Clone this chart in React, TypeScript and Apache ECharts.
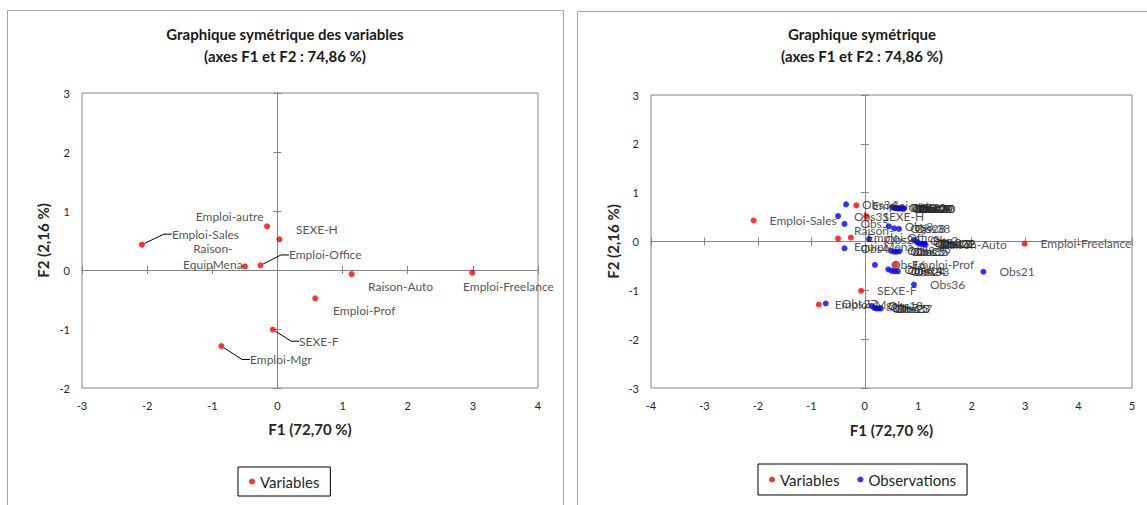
import React, { useEffect, useRef } from 'react';
import * as echarts from 'echarts';

// ---- Data ----
const VAR_NAMES = ['Emploi-Sales', 'Emploi-autre', 'SEXE-H', 'Raison-EquipMena', 'Emploi-Office', 'Raison-Auto', 'Emploi-Freelance', 'Emploi-Prof', 'SEXE-F', 'Emploi-Mgr'];
const VAR_F1 = [-2.08, -0.16, 0.03, -0.5, -0.26, 1.14, 2.99, 0.58, -0.07, -0.86];
const VAR_F2 = [0.43, 0.74, 0.52, 0.06, 0.08, -0.07, -0.045, -0.48, -1.01, -1.29];

const OBS_NAMES = Array.from({ length: 40 }, (_, i) => 'Obs' + (i + 1));
const OBS_F1 = [0.52, 0.92, 0.98, -0.38, -0.38, 0.44, 0.18, 0.45, 0.49, 0.56,
  0.59, 1.02, 0.13, 0.5, 0.22, 0.19, 1.06, 0.62, 0.65, 0.68,
  2.22, 1.1, 0.26, 0.56, 0.55, 0.08, -0.73, 0.55, 0.7, 0.72,
  -0.5, 1.12, 0.62, -0.35, 0.6, 0.92, 0.3, 0.64, 0.65, 0.73];
const OBS_F2 = [0.7, 0.03, -0.02, -0.14, 0.36, -0.57, -1.36, 0.31, -0.19, 0.69,
  0.68, -0.04, -1.32, -0.6, -1.37, -0.48, -0.05, 0.68, 0.68, 0.68,
  -0.62, -0.05, -1.37, -0.61, -0.21, 0.05, -1.27, 0.27, 0.68, 0.67,
  0.52, -0.05, -0.61, 0.76, -0.21, -0.88, -1.37, 0.26, -0.2, 0.68];

const LEFT_X = [-3, 4];
const LEFT_Y = [-2, 3];
const RIGHT_X = [-4, 5];
const RIGHT_Y = [-3, 3];

const TITLE_LEFT = 'Graphique symétrique des variables\n(axes F1 et F2 : 74,86 %)';
const TITLE_RIGHT = 'Graphique symétrique\n(axes F1 et F2 : 74,86 %)';
const X_NAME = 'F1 (72,70 %)';
const Y_NAME = 'F2 (2,16 %)';

// ---- Label placement (style) ----
const LEFT_LABELS: Record<string, { pos: string; dx: number; dy: number; line?: boolean }> = {
  'Emploi-Sales': { pos: 'right', dx: 22, dy: -10.5, line: true },
  'Emploi-autre': { pos: 'left', dx: 4.5, dy: -10 },
  'SEXE-H': { pos: 'right', dx: 8.6, dy: -10 },
  'Raison-EquipMena': { pos: 'inside', dx: -32, dy: -9.5 },
  'Emploi-Office': { pos: 'right', dx: 20.5, dy: -10.3, line: true },
  'Raison-Auto': { pos: 'right', dx: 8.3, dy: 12.3 },
  'Emploi-Freelance': { pos: 'right', dx: -17.2, dy: 13.7 },
  'Emploi-Prof': { pos: 'right', dx: 9.8, dy: 11.7 },
  'SEXE-F': { pos: 'right', dx: 18.2, dy: 11.6, line: true },
  'Emploi-Mgr': { pos: 'right', dx: 20.6, dy: 13.4, line: true },
};
const WRAPPED: Record<string, string> = { 'Raison-EquipMena': 'Raison-\nEquipMena' };

const FONT = 'Lato';
const AXIS_GRAY = '#868686';
const TEXT = '#262626';

function axesFor(gridIndex: number, base: number, xr: number[], yr: number[], yGap: number, xGap: number) {
  const lineStyle = { color: AXIS_GRAY, width: 1 };
  const common = { type: 'value', interval: 1, splitLine: { show: false }, gridIndex };
  const xAxes = [
    {
      ...common, min: xr[0], max: xr[1], position: 'bottom',
      axisLine: { show: false, onZero: false }, axisTick: { show: false },
      axisLabel: { show: true, fontSize: 11, color: TEXT, fontFamily: FONT, margin: 12 },
      name: X_NAME, nameLocation: 'middle', nameGap: xGap,
      nameTextStyle: { fontSize: 15, fontWeight: 'bold', color: TEXT, fontFamily: FONT },
    },
    {
      ...common, min: xr[0], max: xr[1],
      axisLine: { show: true, onZero: true, onZeroAxisIndex: base, lineStyle },
      axisTick: { show: true, inside: true, length: 4, lineStyle }, axisLabel: { show: false },
    },
    {
      ...common, min: xr[0], max: xr[1],
      axisLine: { show: false, onZero: true, onZeroAxisIndex: base, lineStyle },
      axisTick: { show: true, inside: false, length: 4, lineStyle }, axisLabel: { show: false },
    },
  ];
  const yAxes = [
    {
      ...common, min: yr[0], max: yr[1], position: 'left',
      axisLine: { show: false, onZero: false }, axisTick: { show: false },
      axisLabel: { show: true, fontSize: 11, color: TEXT, fontFamily: FONT, margin: 12 },
      name: Y_NAME, nameLocation: 'middle', nameGap: yGap,
      nameTextStyle: { fontSize: 15, fontWeight: 'bold', color: TEXT, fontFamily: FONT },
    },
    {
      ...common, min: yr[0], max: yr[1],
      axisLine: { show: true, onZero: true, onZeroAxisIndex: base, lineStyle },
      axisTick: { show: true, inside: true, length: 4, lineStyle }, axisLabel: { show: false },
    },
    {
      ...common, min: yr[0], max: yr[1],
      axisLine: { show: false, onZero: true, onZeroAxisIndex: base, lineStyle },
      axisTick: { show: true, inside: false, length: 4, lineStyle }, axisLabel: { show: false },
    },
  ];
  return { xAxes, yAxes };
}

const labelFormatter = (p: any) => WRAPPED[p.name] ?? p.name;

function buildOption() {
  const L = axesFor(0, 0, LEFT_X, LEFT_Y, 31.5, 33);
  const R = axesFor(1, 3, RIGHT_X, RIGHT_Y, 30.5, 34.5);

  const leftData = VAR_NAMES.map((n, i) => {
    const o = LEFT_LABELS[n];
    return {
      name: n,
      value: [VAR_F1[i], VAR_F2[i]],
      label: { position: o.pos },
      labelLine: { show: !!o.line },
    };
  });
  const rightVars = VAR_NAMES.map((n, i) => ({ name: n, value: [VAR_F1[i], VAR_F2[i]] }));
  const rightObs = OBS_NAMES.map((n, i) => ({ name: n, value: [OBS_F1[i], OBS_F2[i]] }));

  const labelBase = {
    show: true, fontSize: 12, color: TEXT, fontFamily: FONT, lineHeight: 16,
    formatter: labelFormatter,
  };

  const titleStyle = { fontSize: 15, fontWeight: 'bold', lineHeight: 22, color: '#1a1a1a', fontFamily: FONT };

  return {
    animation: false,
    backgroundColor: '#ffffff',
    textStyle: { fontFamily: FONT },
    title: [
      { text: TITLE_LEFT, left: 285, top: 23, textAlign: 'center', padding: 0, textStyle: titleStyle },
      { text: TITLE_RIGHT, left: 862, top: 23, textAlign: 'center', padding: 0, textStyle: titleStyle },
    ],
    legend: [
      {
        data: ['Variables'], left: 238, top: 467, padding: [7, 11], orient: 'horizontal',
        borderColor: '#000', borderWidth: 1, icon: 'circle', itemWidth: 6, itemHeight: 6,
        selectedMode: false, textStyle: { fontSize: 15, color: TEXT, fontFamily: FONT },
      },
      {
        data: ['Variables', 'Observations'], left: 758, top: 464, padding: [8, 11], itemGap: 18,
        orient: 'horizontal', borderColor: '#000', borderWidth: 1, icon: 'circle',
        itemWidth: 6, itemHeight: 6, selectedMode: false,
        textStyle: { fontSize: 15, color: TEXT, fontFamily: FONT },
      },
    ],
    grid: [
      { left: 82, top: 93, width: 456, height: 295, show: true, borderColor: AXIS_GRAY, borderWidth: 1, backgroundColor: 'transparent' },
      { left: 651, top: 95, width: 481, height: 293, show: true, borderColor: AXIS_GRAY, borderWidth: 1, backgroundColor: 'transparent' },
    ],
    xAxis: [...L.xAxes, ...R.xAxes],
    yAxis: [...L.yAxes, ...R.yAxes],
    graphic: [
      { type: 'rect', silent: true, z: -10, shape: { x: 7.5, y: 10.5, width: 556, height: 530 }, style: { fill: 'none', stroke: '#a6a6a6', lineWidth: 1 } },
      { type: 'rect', silent: true, z: -10, shape: { x: 577.5, y: 11.5, width: 600, height: 530 }, style: { fill: 'none', stroke: '#a6a6a6', lineWidth: 1 } },
    ],
    series: [
      {
        name: 'Variables', type: 'scatter', xAxisIndex: 0, yAxisIndex: 0,
        symbol: 'circle', symbolSize: 6, itemStyle: { color: '#ff0000' },
        label: { ...labelBase, distance: 5 },
        labelLine: { show: false, length2: 8, lineStyle: { color: '#000', width: 1 } },
        labelLayout: (p: any) => {
          const o = LEFT_LABELS[VAR_NAMES[p.dataIndex]];
          return { dx: o.dx, dy: o.dy };
        },
        data: leftData,
      },
      {
        name: 'Variables', type: 'scatter', xAxisIndex: 3, yAxisIndex: 3,
        symbol: 'circle', symbolSize: 6, itemStyle: { color: '#ff0000' },
        label: { ...labelBase, position: 'right', distance: 13 },
        data: rightVars,
      },
      {
        name: 'Observations', type: 'scatter', xAxisIndex: 3, yAxisIndex: 3,
        symbol: 'circle', symbolSize: 6, itemStyle: { color: '#0000ff' },
        label: { ...labelBase, position: 'right', distance: 13 },
        data: rightObs,
      },
    ],
  };
}

export default function App() {
  const ref = useRef<HTMLDivElement>(null);
  useEffect(() => {
    if (!ref.current) return;
    const chart = echarts.init(ref.current, null, { renderer: 'svg' });
    chart.setOption(buildOption() as any);
    return () => chart.dispose();
  }, []);
  return (
    <div
      ref={ref}
      style={{ position: 'absolute', left: 0, top: 0, width: 1147, height: 505, background: '#fff' }}
    />
  );
}
